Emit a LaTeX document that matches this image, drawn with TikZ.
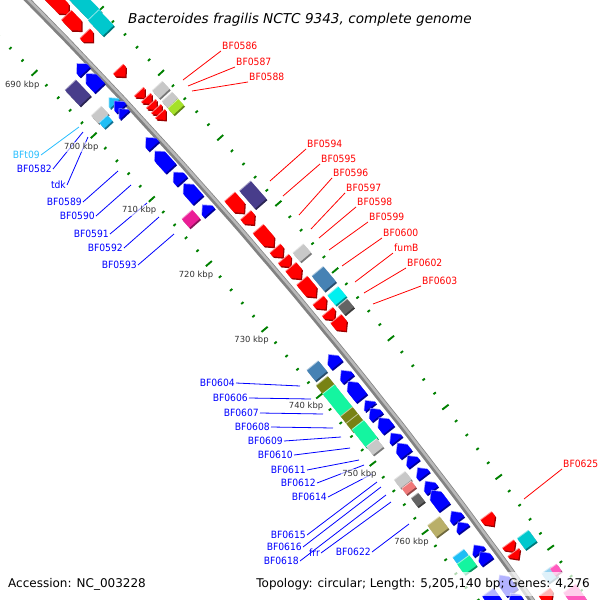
\documentclass[tikz,border=0pt]{standalone}
\usepackage{fontspec}
\setmainfont{DejaVu Sans}
\newfontfamily\genefont[FakeStretch=0.92]{DejaVu Sans}
\usetikzlibrary{positioning}

\definecolor{genered}{RGB}{255,0,0}
\definecolor{geneblue}{RGB}{0,0,255}
\definecolor{trnablue}{RGB}{40,190,255}
\definecolor{slate}{RGB}{72,61,139}
\definecolor{ltgrey}{RGB}{200,200,200}
\definecolor{steel}{RGB}{70,130,180}
\definecolor{cyanbox}{RGB}{0,240,240}
\definecolor{dimgrey}{RGB}{100,100,100}
\definecolor{turq}{RGB}{0,200,205}
\definecolor{limebox}{RGB}{165,225,40}
\definecolor{skyb}{RGB}{30,190,245}
\definecolor{pinkbox}{RGB}{235,30,150}
\definecolor{olivebox}{RGB}{120,130,20}
\definecolor{springbox}{RGB}{20,245,160}
\definecolor{salmonbox}{RGB}{240,120,120}
\definecolor{khakibox}{RGB}{185,175,105}
\definecolor{hotpinkbox}{RGB}{255,90,190}
\definecolor{ltbluebox}{RGB}{150,210,240}
\definecolor{tickgreen}{RGB}{0,128,0}
\definecolor{kbpgrey}{RGB}{50,50,50}
\definecolor{bbgrey}{RGB}{130,130,130}
\definecolor{bblight}{RGB}{185,185,185}

% feature outlines in the local frame (u along the map, v outwards)
\newcommand\shpbox{(-\fl,-\fh) rectangle (\fl,\fh)}
\newcommand\shpfwd{(-\fl,-\fh) -- (\fb,-\fh) -- (\fl,0) -- (\fb,\fh) -- (-\fl,\fh) -- cycle}
\newcommand\shprev{(\fl,-\fh) -- (\fc,-\fh) -- (-\fl,0) -- (\fc,\fh) -- (\fl,\fh) -- cycle}

% \feat{x}{y}{length}{thickness}{colour}{outline}
\newcommand\feat[6]{%
  \pgfmathsetmacro\frot{atan2(-(#1+3487),3464-(#2))}%
  \pgfmathsetmacro\fl{(#3+3)/2}%
  \pgfmathsetmacro\fh{(#4+2)/2}%
  \pgfmathsetmacro\fb{max(\fl-7,-\fl)}%
  \pgfmathsetmacro\fc{-\fb}%
  \fill[#5!60!black, shift={(#1+1.2,#2+1.5)}, rotate=\frot, yscale=-1] #6;
  \fill[#5!45!white, shift={(#1-0.6,#2-0.8)}, rotate=\frot, yscale=-1] #6;
  \fill[#5, shift={(#1,#2)}, rotate=\frot, yscale=-1] #6;
}

\tikzset{
  rlab/.style={text=genered, font=\genefont\fontsize{10}{12}\selectfont, inner sep=1pt, anchor=west},
  blab/.style={rlab, text=geneblue, anchor=east},
  rline/.style={draw=genered, line width=0.8pt},
  bline/.style={rline, draw=geneblue},
  kbp/.style={text=kbpgrey, font=\fontsize{8.4}{9}\selectfont, inner sep=1pt, fill=white, fill opacity=0.6, text opacity=1},
  rtick/.style={draw=tickgreen, line width=1.9pt},
  backbone/.style={draw=bbgrey, line width=6pt},
  info/.style={font=\fontsize{12}{14}\selectfont, fill=white, fill opacity=0.7, text opacity=1, inner xsep=8pt, inner ysep=6pt},
}

\begin{document}
\begin{tikzpicture}[x=1pt, y=-1pt]
\useasboundingbox (0,0) rectangle (600,600);
\clip (0,0) rectangle (600,600);

% rulers and backbone
\begin{scope}[shift={(-3487,3464)}]
  \foreach \k in {680,682,...,784}{
    \pgfmathsetmacro\a{0.101*(\k-690)-43.92}
    \pgfmathtruncatemacro\mj{mod(\k,10)==0}
    \ifnum\mj=1
      \draw[rtick] (\a:4885) -- (\a:4893);
      \draw[rtick] (\a:4977) -- (\a:4985);
    \else
      \draw[rtick] (\a:4887.5) -- (\a:4890.5);
      \draw[rtick] (\a:4979.5) -- (\a:4982.5);
    \fi
  }
  \draw[backbone] plot[domain=-45:-35, samples=60] (\x:4935);
  \draw[bblight, line width=2.5pt] plot[domain=-45:-35, samples=60] (\x:4936);
\end{scope}

% outer track
\feat{81}{1}{40}{13}{turq}{\shpbox}
\feat{101}{23}{18}{13}{turq}{\shpbox}
\feat{161}{90}{7}{12}{ltgrey}{\shpbox}
\feat{170}{100}{5}{12}{ltgrey}{\shpbox}
\feat{176}{107}{5}{12}{limebox}{\shpbox}
\feat{253}{195}{20}{13}{slate}{\shpbox}
\feat{302}{253}{8}{12}{ltgrey}{\shpbox}
\feat{324}{279}{16}{13}{steel}{\shpbox}
\feat{337}{296}{9}{12}{cyanbox}{\shpbox}
\feat{346}{307}{7}{10}{dimgrey}{\shpbox}
\feat{527}{540}{10}{12}{turq}{\shpbox}
\feat{550}{575}{8}{10}{ltbluebox}{\shpbox}
\feat{556}{570}{5}{6}{hotpinkbox}{\shpbox}
\feat{577}{599}{22}{13}{hotpinkbox}{\shpbox}

% forward strand
\feat{57}{2}{30}{12}{genered}{\shpfwd}
\feat{74}{23}{18}{12}{genered}{\shpfwd}
\feat{89}{38}{8}{12}{genered}{\shpfwd}
\feat{122}{73}{7}{12}{genered}{\shpfwd}
\feat{142}{95}{5}{11}{genered}{\shpfwd}
\feat{149}{101}{5}{11}{genered}{\shpfwd}
\feat{154}{107}{5}{11}{genered}{\shpfwd}
\feat{159}{112}{5}{11}{genered}{\shpfwd}
\feat{163}{117}{5}{11}{genered}{\shpfwd}
\feat{237}{205}{18}{12}{genered}{\shpfwd}
\feat{250}{220}{9}{12}{genered}{\shpfwd}
\feat{266}{238}{20}{12}{genered}{\shpfwd}
\feat{279}{253}{8}{12}{genered}{\shpfwd}
\feat{287}{263}{7}{12}{genered}{\shpfwd}
\feat{296}{273}{12}{12}{genered}{\shpfwd}
\feat{309}{289}{18}{12}{genered}{\shpfwd}
\feat{322}{305}{8}{12}{genered}{\shpfwd}
\feat{331}{316}{7}{12}{genered}{\shpfwd}
\feat{341}{325}{12}{12}{genered}{\shpfwd}
\feat{490}{521}{9}{12}{genered}{\shpfwd}
\feat{511}{548}{6}{12}{genered}{\shpfwd}
\feat{516}{556}{5}{12}{genered}{\shpfwd}
\feat{548}{597}{8}{12}{genered}{\shpfwd}

% reverse strand
\feat{81}{68}{8}{12}{geneblue}{\shprev}
\feat{93}{81}{16}{12}{geneblue}{\shprev}
\feat{112}{101}{5}{11}{skyb}{\shprev}
\feat{118}{105}{7}{11}{geneblue}{\shprev}
\feat{122}{112}{5}{11}{geneblue}{\shprev}
\feat{150}{142}{8}{12}{geneblue}{\shprev}
\feat{163}{160}{20}{12}{geneblue}{\shprev}
\feat{178}{177}{9}{12}{geneblue}{\shprev}
\feat{191}{192}{18}{12}{geneblue}{\shprev}
\feat{206}{209}{7}{12}{geneblue}{\shprev}
\feat{333}{360}{10}{12}{geneblue}{\shprev}
\feat{345}{375}{8}{12}{geneblue}{\shprev}
\feat{355}{390}{18}{12}{geneblue}{\shprev}
\feat{368}{404}{5}{12}{geneblue}{\shprev}
\feat{374}{413}{8}{12}{geneblue}{\shprev}
\feat{384}{424}{12}{12}{geneblue}{\shprev}
\feat{394}{437}{6}{12}{geneblue}{\shprev}
\feat{402}{449}{11}{12}{geneblue}{\shprev}
\feat{411}{460}{7}{12}{geneblue}{\shprev}
\feat{421}{472}{7}{12}{geneblue}{\shprev}
\feat{429}{486}{8}{12}{geneblue}{\shprev}
\feat{438}{499}{18}{12}{geneblue}{\shprev}
\feat{455}{516}{8}{12}{geneblue}{\shprev}
\feat{461}{526}{6}{12}{geneblue}{\shprev}
\feat{477}{549}{6}{12}{geneblue}{\shprev}
\feat{484}{557}{9}{12}{geneblue}{\shprev}
\feat{506}{584}{18}{12}{geneblue}{\shprev}
\feat{514}{598}{8}{12}{geneblue}{\shprev}

% inner track
\feat{78}{93}{18}{13}{slate}{\shpbox}
\feat{100}{115}{7}{12}{ltgrey}{\shpbox}
\feat{106}{122}{4}{9}{skyb}{\shpbox}
\feat{191}{219}{8}{12}{pinkbox}{\shpbox}
\feat{317}{371}{10}{13}{steel}{\shpbox}
\feat{326}{386}{9}{13}{olivebox}{\shpbox}
\feat{338}{401}{26}{13}{springbox}{\shpbox}
\feat{350}{416}{7}{13}{olivebox}{\shpbox}
\feat{355.5}{423}{7}{13}{olivebox}{\shpbox}
\feat{365}{434}{19}{13}{springbox}{\shpbox}
\feat{375}{447}{7}{11}{ltgrey}{\shpbox}
\feat{403}{480}{7}{12}{ltgrey}{\shpbox}
\feat{409}{488}{4}{10}{salmonbox}{\shpbox}
\feat{418}{500}{7}{7}{dimgrey}{\shpbox}
\feat{438}{527}{11}{13}{khakibox}{\shpbox}
\feat{461}{557}{5}{12}{skyb}{\shpbox}
\feat{467}{565}{9}{13}{springbox}{\shpbox}
\feat{492}{598}{10}{12}{geneblue}{\shpbox}

% labels on the forward strand
\foreach \nm/\lx/\ly/\sx/\sy in {BF0586/221/46/183/80, BF0587/235/62/188/86,
    BF0588/248/77/192/91, BF0594/306/144/270/181, BF0595/320/159/283/196,
    BF0596/332/173/299/215, BF0597/345/188/311/229, BF0598/356/202/319/238,
    BF0599/368/217/329/250, BF0600/382/233/342/266, fumB/393/248/355/282,
    BF0602/406/263/364/293, BF0603/421/281/373/304, BF0625/562/464/524/499}{
  \node[rlab] (l\nm) at (\lx,\ly) {\nm};
  \coordinate (s\nm) at (\sx,\sy);
  \draw[rline] (s\nm) -- (l\nm.south west);
}

% labels on the reverse strand
\node[blab, text=trnablue] (lBFt09) at (41,155) {BFt09};
\coordinate (sBFt09) at (79,127);
\draw[rline, draw=trnablue] (sBFt09) -- (lBFt09.east);
\foreach \nm/\lx/\ly/\sx/\sy in {BF0582/53/169/83/132, tdk/67/185/88/137,
    BF0589/83/202/118/171, BF0590/96/216/131/185, BF0591/110/234/147/203,
    BF0592/124/248/159/217, BF0593/138/265/174/234, BF0604/236/383/300/386,
    BF0606/249/398/311/399, BF0607/260/413/323/414, BF0608/271/427/333/428,
    BF0609/284/441/341/437, BF0610/294/455/350/448, BF0611/307/470/359/460,
    BF0612/317/483/364/465, BF0614/328/497/372/474, BF0615/307/535/377/482,
    BF0616/303/547/381/487, BF0618/300/561/386/495, frr/321/553/391/502,
    BF0622/372/552/409/524}{
  \node[blab] (l\nm) at (\lx,\ly) {\nm};
  \coordinate (s\nm) at (\sx,\sy);
  \draw[bline] (s\nm) -- (l\nm.east);
}

% ruler labels
\begin{scope}[shift={(-3487,3464)}]
  \foreach \k in {690,700,...,760}{
    \pgfmathsetmacro\a{0.101*(\k-690)-43.92}
    \node[kbp] (k\k) at (\a:4872) {\k\ kbp};
  }
\end{scope}

\node[font=\itshape\fontsize{13.6}{16}\selectfont, inner sep=1pt, anchor=base west] (title) at (127,23)
  {Bacteroides fragilis NCTC 9343, complete genome};
\node[info, anchor=base west] (acc) at (0,587) {Accession: NC\_003228};
\node[info, anchor=base east] (topo) at (598,587) {Topology: circular; Length: 5,205,140 bp; Genes: 4,276};
\end{tikzpicture}
\end{document}
